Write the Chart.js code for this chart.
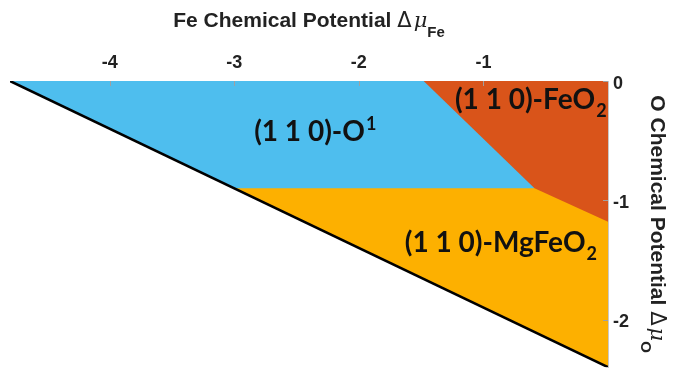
<!DOCTYPE html>
<html>
<head>
<meta charset="utf-8">
<script src="https://cdn.jsdelivr.net/npm/chart.js@4.4.1/dist/chart.umd.min.js"></script>
<style>
  html, body { margin: 0; padding: 0; background: #fff; }
  #phase { display: block; }
</style>
</head>
<body>
<canvas id="phase" width="676" height="383"></canvas>
<script>
// axis ranges and ticks (eV)
const feRange = [-4.8, 0];
const oRange = [-2.4, 0];
const feTicks = [-4, -3, -2, -1];
const oTicks = [0, -1, -2];

// stability limit: black line
const limitFe = [-4.8, 0];
const limitO = [0, -2.4];

// lower edge of the (1 1 0)-O1 region
const o1EdgeFe = [-4.8, -3.0, -0.59];
const o1EdgeO = [0, -0.9, -0.9];

// lower edge of the (1 1 0)-FeO2 region
const feo2EdgeFe = [-1.48, -0.59, 0];
const feo2EdgeO = [0, -0.9, -1.18];

const regionNames = ['(1 1 0)-O', '(1 1 0)-FeO', '(1 1 0)-MgFeO'];
const regionMarks = ['1', '2', '2'];

function toPoints(xs, ys) {
    return xs.map((v, i) => ({x: v, y: ys[i]}));
}

// draws a row of text pieces centred on cx
function drawPieces(ctx, pieces, cx, baseline) {
    let total = 0;
    pieces.forEach(p => { ctx.font = p.font; total += ctx.measureText(p.text).width + (p.gap || 0); });
    let x = cx - total / 2;
    pieces.forEach(p => {
        ctx.font = p.font;
        ctx.fillText(p.text, x, baseline + (p.dy || 0));
        x += ctx.measureText(p.text).width + (p.gap || 0);
    });
}

const phaseText = {
    id: 'phaseText',
    afterDatasetsDraw(chart) {
        const ctx = chart.ctx;
        const xs = chart.scales.x;
        const ys = chart.scales.y;
        ctx.save();

        // small inward tick marks
        ctx.strokeStyle = '#a0a0a0';
        ctx.lineWidth = 1;
        feTicks.forEach(v => {
            const px = Math.round(xs.getPixelForValue(v)) + 0.5;
            ctx.beginPath(); ctx.moveTo(px, ys.top); ctx.lineTo(px, ys.top + 5); ctx.stroke();
        });
        oTicks.forEach(v => {
            const py = Math.round(ys.getPixelForValue(v)) + 0.5;
            ctx.beginPath(); ctx.moveTo(xs.right, py); ctx.lineTo(xs.right - 5, py); ctx.stroke();
        });

        // region names
        ctx.fillStyle = '#111';
        ctx.textAlign = 'left';
        ctx.textBaseline = 'alphabetic';
        const big = 'bold 28px Lato';
        const small = 'bold 18px Lato';
        const spots = [[-2.35, -0.5, -11], [-0.62, -0.234, 8], [-0.86, -1.43, 8]];
        regionNames.forEach((name, i) => {
            const s = spots[i];
            drawPieces(ctx, [
                {text: name, font: big, gap: 1},
                {text: regionMarks[i], font: small, dy: s[2]}
            ], xs.getPixelForValue(s[0]), ys.getPixelForValue(s[1]));
        });

        // axis titles with subscripts
        ctx.fillStyle = '#222';
        const cx = (xs.left + xs.right) / 2;
        drawPieces(ctx, [
            {text: 'Fe Chemical Potential ', font: 'bold 21px "Liberation Sans"'},
            {text: '\u0394', font: '21px "DejaVu Sans"', gap: 2},
            {text: '\u03bc', font: 'italic 21px "DejaVu Serif"'},
            {text: 'Fe', font: 'bold 15px "Liberation Sans"', dy: 10}
        ], cx, 27);

        ctx.translate(651, (ys.top + ys.bottom) / 2);
        ctx.rotate(Math.PI / 2);
        drawPieces(ctx, [
            {text: 'O Chemical Potential ', font: 'bold 21px "Liberation Sans"'},
            {text: '\u0394', font: '21px "DejaVu Sans"', gap: 2},
            {text: '\u03bc', font: 'italic 21px "DejaVu Serif"'},
            {text: 'O', font: 'bold 15px "Liberation Sans"', dy: 10}
        ], 0, 0);
        ctx.restore();
    }
};

const tickFont = {family: '"Liberation Sans"', size: 18, weight: 'bold'};

new Chart('phase', {
    type: 'line',
    data: {
        datasets: [
            {
                label: 'limit',
                data: toPoints(limitFe, limitO),
                borderColor: '#000',
                borderWidth: 2.5,
                fill: false,
                order: 0
            },
            {
                label: '(1 1 0)-FeO2',
                data: toPoints(feo2EdgeFe, feo2EdgeO),
                borderWidth: 0,
                borderColor: 'rgba(0,0,0,0)',
                backgroundColor: '#D9541A',
                fill: 'end',
                order: 1
            },
            {
                label: '(1 1 0)-O1',
                data: toPoints(o1EdgeFe, o1EdgeO),
                borderWidth: 0,
                borderColor: 'rgba(0,0,0,0)',
                backgroundColor: '#4EBEEE',
                fill: 'end',
                order: 2
            },
            {
                label: '(1 1 0)-MgFeO2',
                data: toPoints(limitFe, limitO),
                borderWidth: 0,
                borderColor: 'rgba(0,0,0,0)',
                backgroundColor: '#FDB000',
                fill: 'end',
                order: 3
            }
        ]
    },
    options: {
        responsive: false,
        animation: false,
        events: [],
        elements: {point: {radius: 0}, line: {tension: 0}},
        layout: {padding: {left: 10, top: 0, right: 0, bottom: 5}},
        plugins: {legend: {display: false}, tooltip: {enabled: false}},
        scales: {
            x: {
                type: 'linear',
                position: 'top',
                min: feRange[0],
                max: feRange[1],
                afterBuildTicks: (axis) => { axis.ticks = feTicks.map(v => ({value: v})); },
                afterFit: (axis) => { axis.height = 81; },
                grid: {display: false, drawTicks: false},
                border: {display: true, color: '#c8c8c8', width: 1},
                ticks: {font: tickFont, color: '#222', padding: 7}
            },
            y: {
                type: 'linear',
                position: 'right',
                min: oRange[0],
                max: oRange[1],
                afterBuildTicks: (axis) => { axis.ticks = oTicks.map(v => ({value: v})); },
                afterFit: (axis) => { axis.width = 68; },
                grid: {display: false, drawTicks: false},
                border: {display: true, color: '#c8c8c8', width: 1},
                ticks: {font: tickFont, color: '#222', padding: 5, labelOffset: 3}
            }
        }
    },
    plugins: [phaseText]
});
</script>
</body>
</html>
